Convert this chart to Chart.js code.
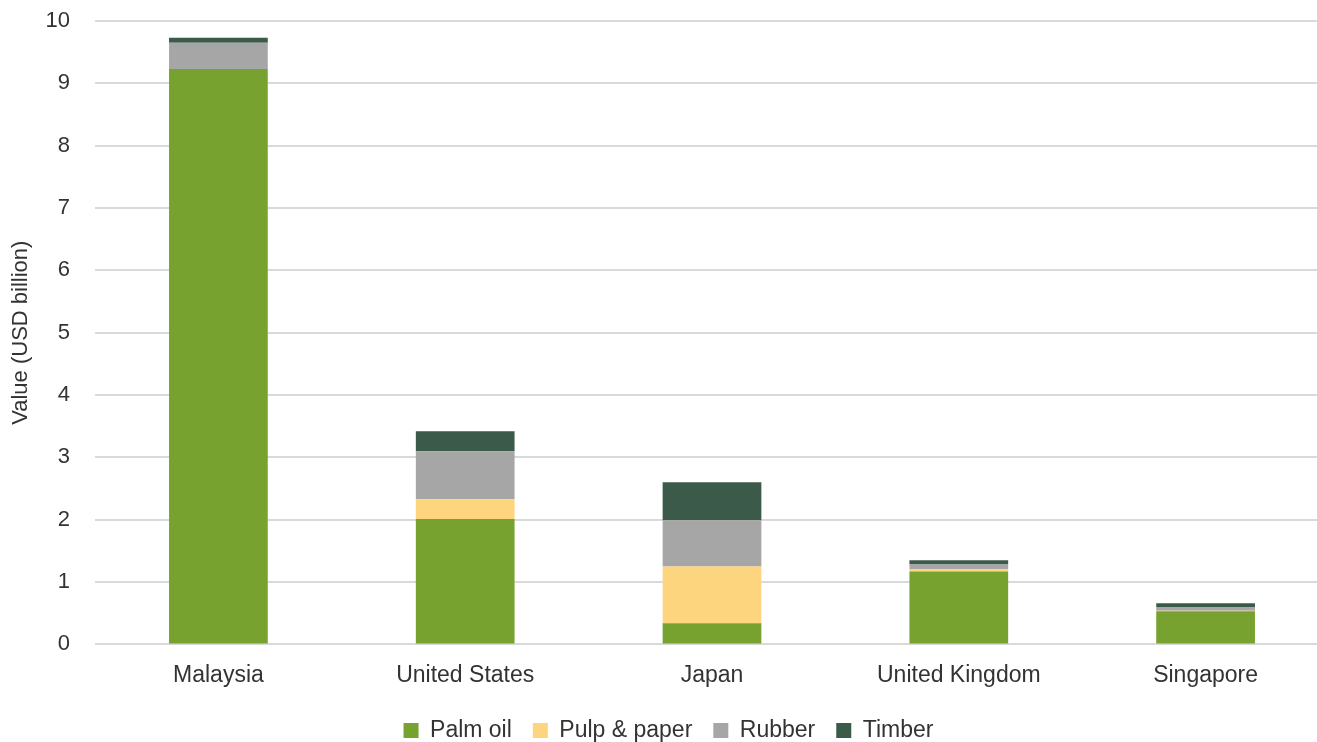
<!DOCTYPE html>
<html>
<head>
<meta charset="utf-8">
<script src="https://cdn.jsdelivr.net/npm/chart.js@4"></script>
<style>
  html, body { margin: 0; padding: 0; overflow: hidden; background: #fff; }
  #wrap { width: 1329px; height: 752px; }
</style>
</head>
<body>
<div id="wrap"><canvas id="chart"></canvas></div>
<script>
const countries = ['Malaysia', 'United States', 'Japan', 'United Kingdom', 'Singapore'];
const palmOil   = [9.23, 2.01, 0.34, 1.17, 0.53];
const pulpPaper = [0.00, 0.32, 0.91, 0.04, 0.01];
const rubber    = [0.42, 0.77, 0.74, 0.08, 0.06];
const timber    = [0.08, 0.32, 0.61, 0.06, 0.06];

const font = 'Helvetica, "Liberation Sans", Arial, sans-serif';

new Chart('chart', {
  type: 'bar',
  data: {
    labels: countries,
    datasets: [
      {label: 'Palm oil', data: palmOil, backgroundColor: '#77a22f'},
      {label: 'Pulp & paper', data: pulpPaper, backgroundColor: '#fdd57e'},
      {label: 'Rubber', data: rubber, backgroundColor: '#a6a6a6'},
      {label: 'Timber', data: timber, backgroundColor: '#3b5a4a'}
    ]
  },
  options: {
    responsive: true,
    maintainAspectRatio: false,
    animation: false,
    datasets: {bar: {categoryPercentage: 0.4, barPercentage: 1}},
    layout: {padding: {top: 21, left: 8, right: 0, bottom: 0}},
    plugins: {
      tooltip: {enabled: false},
      legend: {
        position: 'bottom',
        labels: {
          font: {family: font, size: 23},
          color: '#333',
          boxWidth: 15,
          boxHeight: 15,
          padding: 21
        }
      }
    },
    scales: {
      x: {
        stacked: true,
        grid: {display: false},
        border: {display: false},
        ticks: {font: {family: font, size: 23}, color: '#333', padding: 9}
      },
      y: {
        stacked: true,
        min: 0,
        max: 10,
        afterFit: (s) => { s.width = 87; s.paddingTop = 0; s.paddingBottom = 0; },
        ticks: {stepSize: 1, font: {family: font, size: 22}, color: '#333', padding: 25},
        grid: {color: '#d9d9d9', lineWidth: 2, drawTicks: false},
        border: {display: false},
        title: {display: true, text: 'Value (USD billion)', font: {family: font, size: 22}, color: '#333', padding: 0}
      }
    }
  }
});
</script>
</body>
</html>
